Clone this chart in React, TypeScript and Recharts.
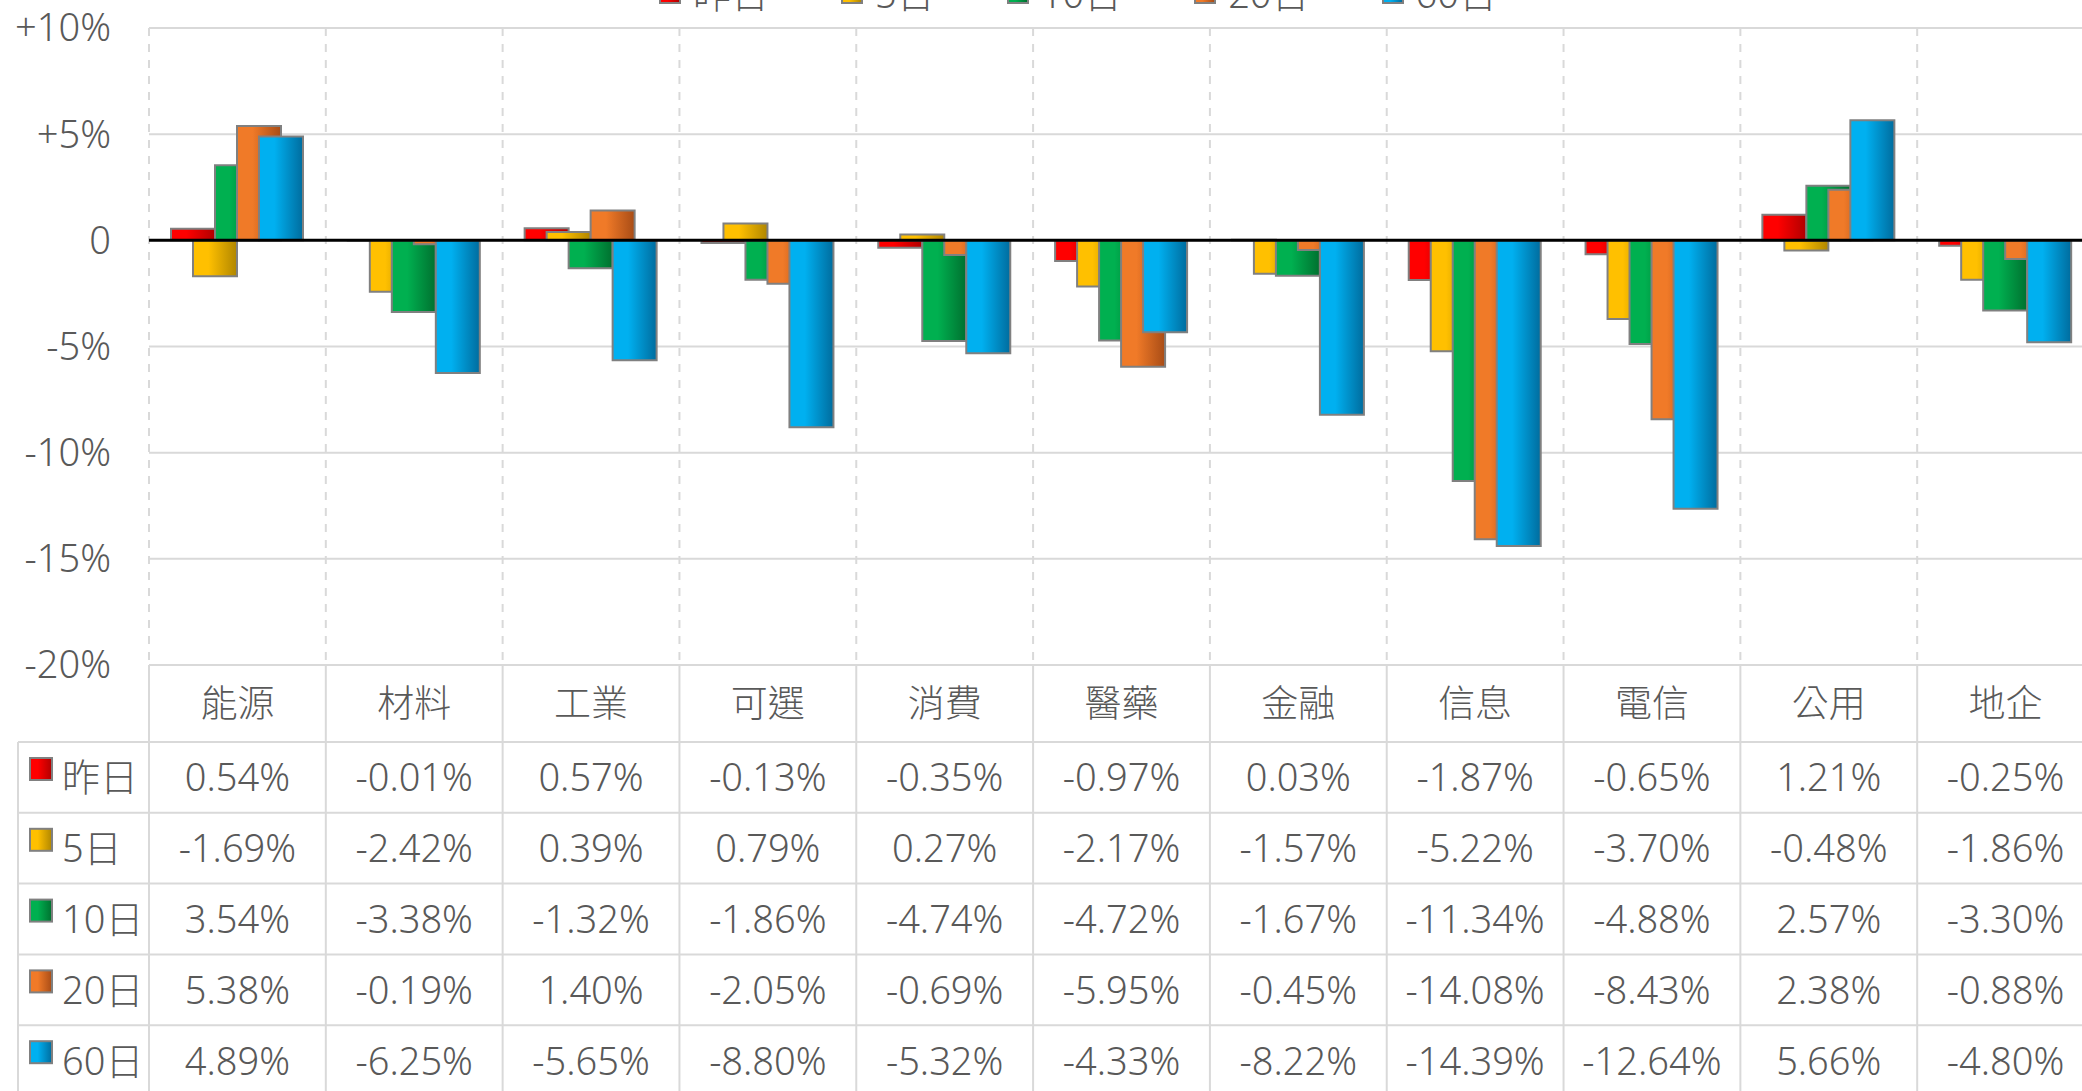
import { BarChart, Bar, XAxis, YAxis, CartesianGrid, ReferenceLine, Legend } from "recharts";

const categories = ["能源", "材料", "工業", "可選", "消費", "醫藥", "金融", "信息", "電信", "公用", "地企"];
const seriesNames = ["昨日", "5日", "10日", "20日", "60日"];

const d1 = [0.54, -0.01, 0.57, -0.13, -0.35, -0.97, 0.03, -1.87, -0.65, 1.21, -0.25];
const d5 = [-1.69, -2.42, 0.39, 0.79, 0.27, -2.17, -1.57, -5.22, -3.7, -0.48, -1.86];
const d10 = [3.54, -3.38, -1.32, -1.86, -4.74, -4.72, -1.67, -11.34, -4.88, 2.57, -3.3];
const d20 = [5.38, -0.19, 1.4, -2.05, -0.69, -5.95, -0.45, -14.08, -8.43, 2.38, -0.88];
const d60 = [4.89, -6.25, -5.65, -8.8, -5.32, -4.33, -8.22, -14.39, -12.64, 5.66, -4.8];

const yTicks = [-20, -15, -10, -5, 0, 5, 10];

const seriesValues = [d1, d5, d10, d20, d60];
// bright -> dark horizontal gradients, like the Excel bars
const seriesColors = [
    ["#FF0000", "#B00000"],
    ["#FFC000", "#B08600"],
    ["#00B050", "#00702F"],
    ["#F07A28", "#A84C16"],
    ["#00B0F0", "#006C9E"]
];

const data = categories.map((c, i) => {
    const row: Record<string, string | number> = { name: c };
    seriesValues.forEach((s, k) => (row["s" + k] = s[i]));
    return row;
});

const FONT = '"Noto Sans", "Noto Sans CJK TC", sans-serif';
const TEXT = "#595959";
const LINE = "#D9D9D9";
const WEIGHT = 300;

const CHART_W = 2100;
const CHART_H = 1100;
const Y_W = 149;
const M_RIGHT = 6;
const PLOT_W = CHART_W - Y_W - M_RIGHT;
const HEADER_H = 77;
const ROW_H = 70.8;

const fmtY = (v: number) => (v > 0 ? `+${v}%` : v === 0 ? "0" : `${v}%`);

const TableTick = (props: any) => {
    const { x, y, payload } = props;
    const i = payload.index;
    const bw = PLOT_W / categories.length;
    const left = x - bw / 2;
    const right = x + bw / 2;
    const bottom = y + HEADER_H + seriesNames.length * ROW_H;
    const rowTop = (r: number) => y + HEADER_H + r * ROW_H;

    return (
        <g>
            <line x1={left} x2={left} y1={y} y2={bottom} stroke={LINE} strokeWidth={2} />
            {i === categories.length - 1 && (
                <line x1={right} x2={right} y1={y} y2={bottom} stroke={LINE} strokeWidth={2} />
            )}
            <text x={x} y={y + 37} textAnchor="middle" dominantBaseline="central" fill={TEXT} fontSize={37} fontWeight={WEIGHT} fontFamily={FONT}>
                {payload.value}
            </text>
            {seriesNames.map((_, r) => (
                <g key={r}>
                    <line x1={left} x2={right} y1={rowTop(r)} y2={rowTop(r)} stroke={LINE} strokeWidth={2} />
                    <text x={x} y={rowTop(r) + ROW_H / 2 - 1} textAnchor="middle" dominantBaseline="central" fill={TEXT} fontSize={38} fontWeight={WEIGHT} fontFamily={FONT}>
                        {seriesValues[r][i].toFixed(2)}%
                    </text>
                </g>
            ))}

            {/* left column with the series keys */}
            {i === 0 && (
                <g>
                    <line x1={18} x2={18} y1={rowTop(0)} y2={bottom} stroke={LINE} strokeWidth={2} />
                    {seriesNames.map((n, r) => (
                        <g key={n}>
                            <line x1={18} x2={left} y1={rowTop(r)} y2={rowTop(r)} stroke={LINE} strokeWidth={2} />
                            <rect x={30} y={rowTop(r) + 16} width={22} height={22} fill={`url(#g${r})`} stroke="#808080" strokeWidth={2} />
                            <text x={62} y={rowTop(r) + ROW_H / 2 - 1} dominantBaseline="central" fill={TEXT} fontSize={38} fontWeight={WEIGHT} fontFamily={FONT}>
                                {n}
                            </text>
                        </g>
                    ))}
                </g>
            )}
        </g>
    );
};

const renderLegend = () => (
    <div style={{ display: "flex", alignItems: "center", height: 30, fontFamily: FONT, fontSize: 38, fontWeight: WEIGHT, color: TEXT }}>
        {seriesNames.map((n, k) => (
            <div key={n} style={{ display: "flex", alignItems: "center", marginRight: 72 }}>
                <span
                    style={{
                        width: 22,
                        height: 22,
                        boxSizing: "border-box",
                        border: "2px solid #808080",
                        background: `linear-gradient(to right, ${seriesColors[k][0]} 35%, ${seriesColors[k][1]})`,
                        marginRight: 12
                    }}
                />
                <span style={{ lineHeight: "30px", whiteSpace: "nowrap" }}>{n}</span>
            </div>
        ))}
    </div>
);

const App = () => {

    return (

        <div style={{ position: "absolute", left: 0, top: 0, width: 2082, height: 1091, overflow: "hidden", background: "#fff", fontFamily: FONT }}>

            <BarChart
                width={CHART_W}
                height={CHART_H}
                data={data}
                margin={{ top: 28, right: M_RIGHT, bottom: 0, left: 0 }}
                barSize={44}
                barGap={-22}
            >

                <defs>
                    {seriesColors.map((c, k) => (
                        <linearGradient key={k} id={`g${k}`} x1="0" y1="0" x2="1" y2="0">
                            <stop offset="0" stopColor={c[0]} />
                            <stop offset="0.35" stopColor={c[0]} />
                            <stop offset="1" stopColor={c[1]} />
                        </linearGradient>
                    ))}
                </defs>

                <CartesianGrid vertical={false} stroke={LINE} strokeWidth={2} />

                <CartesianGrid
                    horizontal={false}
                    stroke={LINE}
                    strokeWidth={2}
                    strokeDasharray="8 8"
                    verticalCoordinatesGenerator={({ offset }: any) =>
                        categories.map((_, i) => offset.left + (i * offset.width) / categories.length)
                    }
                />

                <XAxis
                    dataKey="name"
                    height={CHART_H - 665}
                    axisLine={false}
                    tickLine={false}
                    tickSize={0}
                    tickMargin={0}
                    interval={0}
                    tick={<TableTick />}
                />

                <YAxis
                    domain={[-20, 10]}
                    ticks={yTicks}
                    interval={0}
                    width={Y_W}
                    axisLine={false}
                    tickLine={false}
                    tickSize={0}
                    tickMargin={38}
                    tickFormatter={fmtY}
                    tick={{ fill: TEXT, fontSize: 38, fontWeight: WEIGHT, fontFamily: FONT }}
                />

                <Legend
                    verticalAlign="middle"
                    align="center"
                    layout="horizontal"
                    wrapperStyle={{ top: -22, left: 659, width: 1200, height: 30 }}
                    content={renderLegend}
                />

                {seriesNames.map((n, k) => (
                    <Bar
                        key={n}
                        dataKey={"s" + k}
                        name={n}
                        fill={`url(#g${k})`}
                        stroke="#808080"
                        strokeWidth={2}
                        isAnimationActive={false}
                    />
                ))}

                <ReferenceLine y={0} stroke="#000" strokeWidth={3} />

            </BarChart>

        </div>

    );

};

export default App;
